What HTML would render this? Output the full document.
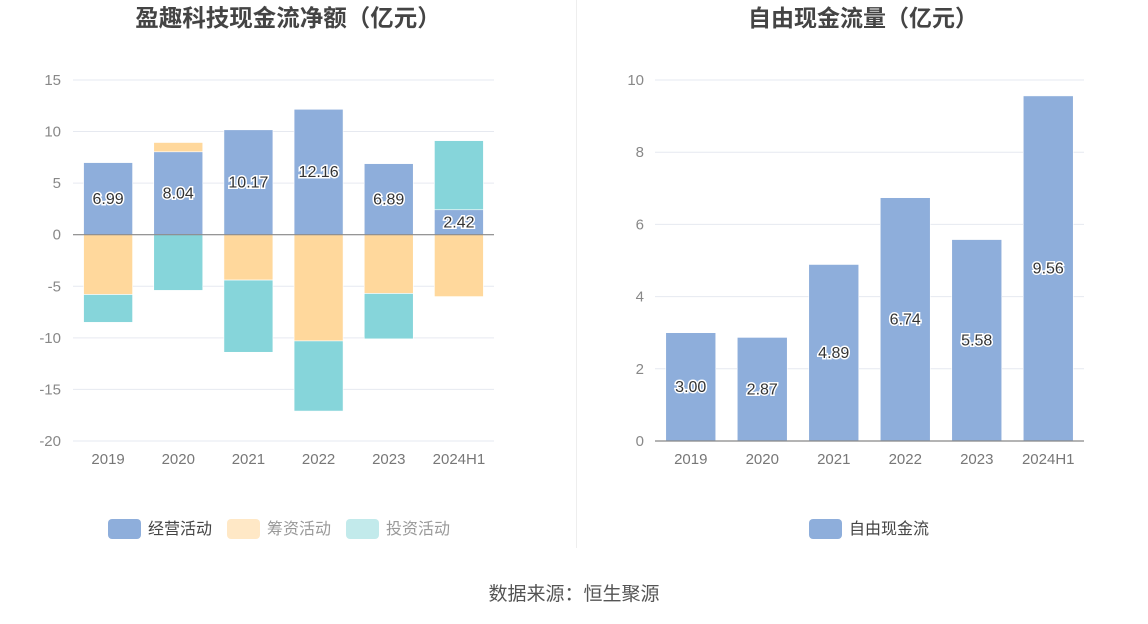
<!DOCTYPE html>
<html><head><meta charset="utf-8"><style>
body{margin:0;background:#fff;width:1148px;height:619px;overflow:hidden;font-family:"Liberation Sans","Noto Sans CJK SC",sans-serif}
svg text{font-family:"Liberation Sans","Noto Sans CJK SC",sans-serif}
</style></head><body>
<svg id="c" width="1148" height="619">
<text x="288" y="26" text-anchor="middle" font-size="23.5" font-weight="bold" fill="#444">盈趣科技现金流净额（亿元）</text>
<text x="863" y="26" text-anchor="middle" font-size="23" font-weight="bold" fill="#444">自由现金流量（亿元）</text>
<line x1="576.5" y1="0" x2="576.5" y2="548" stroke="#eee"/>
<text x="574" y="600" text-anchor="middle" font-size="19" fill="#555">数据来源：恒生聚源</text>
<g id="L"></g><g id="R"></g>
<g>
<rect x="108" y="519" width="33" height="20" rx="4" fill="#8eaedb"/>
<text x="148" y="534" font-size="16" fill="#444">经营活动</text>
<rect x="227" y="519" width="33" height="20" rx="4" fill="#ffe8c6"/>
<text x="267" y="534" font-size="16" fill="#999">筹资活动</text>
<rect x="346" y="519" width="33" height="20" rx="4" fill="#c2eaeb"/>
<text x="386" y="534" font-size="16" fill="#999">投资活动</text>
</g>
<g>
<rect x="809" y="519" width="33" height="20" rx="4" fill="#8eaedb"/>
<text x="849" y="534" font-size="16" fill="#444">自由现金流</text>
</g>
</svg>
<script>
const categories=["2019","2020","2021","2022","2023","2024H1"];
const operating=[6.99,8.04,10.17,12.16,6.89,2.42];
const financing=[-5.8,0.9,-4.4,-10.3,-5.7,-6.0];
const investing=[-2.7,-5.4,-7.0,-6.8,-4.4,6.7];
const leftTicks=[15,10,5,0,-5,-10,-15,-20];
const fcf=[3.00,2.87,4.89,6.74,5.58,9.56];
const rightTicks=[10,8,6,4,2,0];
const NS="http://www.w3.org/2000/svg";
function mk(p,t,a){const e=document.createElementNS(NS,t);for(const k in a)e.setAttribute(k,a[k]);p.appendChild(e);return e;}
function lbl(g,x,y,s){const t=mk(g,'text',{x:x,y:y,'text-anchor':'middle','font-size':16,fill:'#333',stroke:'#fff','stroke-width':3,'paint-order':'stroke','dominant-baseline':'middle'});t.textContent=s;

}
// left
const L=document.getElementById('L');
const lx0=73,lx1=494,ly=v=>234.7-v*10.314,lbw=(lx1-lx0)/6,lcx=i=>lx0+lbw*(i+.5);
leftTicks.forEach(v=>{const l=mk(L,'line',{x1:lx0,x2:lx1,y1:ly(v),y2:ly(v),stroke:'#e6e9f0'});


const t=mk(L,'text',{x:61,y:ly(v)+5,'text-anchor':'end','font-size':15,fill:'#888'});t.textContent=v;

});
function seg(g,i,a,b,col,name){const y1=ly(Math.max(a,b)),y2=ly(Math.min(a,b));const r=mk(g,'rect',{x:lcx(i)-24.5,y:y1,width:49,height:y2-y1,fill:col,stroke:'#fff','stroke-width':0.6});

}
categories.forEach((c,i)=>{let pos=0,neg=0;
const st=(v,col,n)=>{if(v>=0){seg(L,i,pos,pos+v,col,n);pos+=v;}else{seg(L,i,neg,neg+v,col,n);neg+=v;}};
st(operating[i],'#8eaedb','bar-operating-'+c);st(financing[i],'#ffd89c','bar-financing-'+c);st(investing[i],'#86d5da','bar-investing-'+c);
const t=mk(L,'text',{x:lcx(i),y:464,'text-anchor':'middle','font-size':15,fill:'#777'});t.textContent=c;


lbl(L,lcx(i),ly(operating[i]/2)+1,operating[i].toFixed(2));});
const z=mk(L,'line',{x1:lx0,x2:lx1,y1:ly(0),y2:ly(0),stroke:'#888','stroke-width':1.2});


// right
const R=document.getElementById('R');
const rx0=655,rx1=1084,ry=v=>441-v*36.1,rbw=(rx1-rx0)/6,rcx=i=>rx0+rbw*(i+.5);
rightTicks.forEach(v=>{if(v>0){const l=mk(R,'line',{x1:rx0,x2:rx1,y1:ry(v),y2:ry(v),stroke:'#e6e9f0'});

}
const t=mk(R,'text',{x:644,y:ry(v)+5,'text-anchor':'end','font-size':15,fill:'#888'});t.textContent=v;

});
categories.forEach((c,i)=>{const r=mk(R,'rect',{x:rcx(i)-25,y:ry(fcf[i]),width:50,height:ry(0)-ry(fcf[i]),fill:'#8eaedb',stroke:'#fff','stroke-width':0.6});


const t=mk(R,'text',{x:rcx(i),y:464,'text-anchor':'middle','font-size':15,fill:'#777'});t.textContent=c;


lbl(R,rcx(i),ry(fcf[i]/2)+1,fcf[i].toFixed(2));});
const a=mk(R,'line',{x1:rx0,x2:rx1,y1:ry(0),y2:ry(0),stroke:'#888','stroke-width':1.2});


</script>
</body></html>
